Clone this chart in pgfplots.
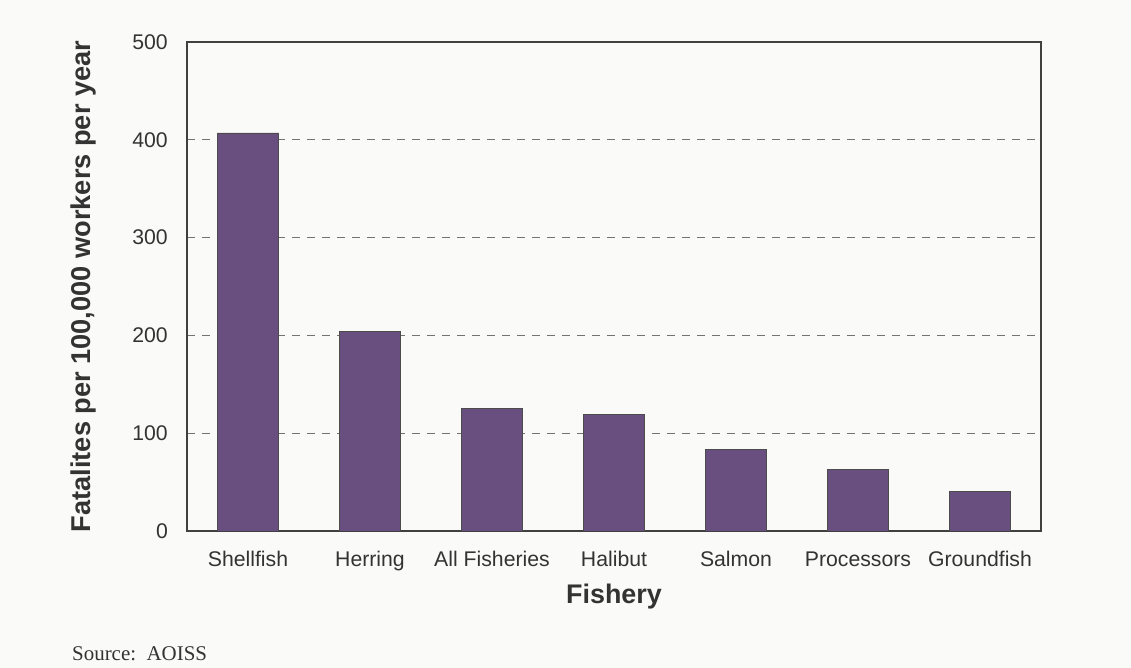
\documentclass[border=0pt]{standalone}
\usepackage{pgfplots}
\pgfplotsset{compat=1.18}
\usepackage{fontspec}
\setmainfont{Liberation Sans}
\newfontfamily\timesfont{Liberation Serif}
\definecolor{bg}{HTML}{FAFAF8}
\definecolor{barc}{HTML}{684F80}
\definecolor{txt}{HTML}{333333}
\begin{document}
\begin{tikzpicture}[x=1bp,y=1bp]
\fill[bg] (0,0) rectangle (1131,668);
\useasboundingbox (0,0) rectangle (1131,668);
\begin{axis}[
  at={(187bp,137bp)}, anchor=south west,
  scale only axis, width=854bp, height=489bp,
  xmin=-0.5, xmax=6.5, ymin=0, ymax=500,
  xtick={0,...,6},
  xticklabels={Shellfish,Herring,All Fisheries,Halibut,Salmon,Processors,Groundfish},
  ytick={0,100,...,500},
  major tick length=0pt,
  axis line style={draw=black!75, line width=1.2bp},
  ymajorgrids,
  grid style={dash pattern=on 8bp off 7bp, draw=black!55, line width=1bp},
  /pgf/number format/assume math mode=true,
  ticklabel style={font=\fontsize{21.3}{25}\selectfont, text=txt, inner sep=0pt},
  yticklabel style={anchor=east, xshift=-19bp},
  xticklabel style={anchor=base, yshift=-36bp},
  ylabel={Fatalites per 100,000 workers per year},
  xlabel={Fishery},
  label style={text=txt},
  ylabel style={font=\bfseries\fontsize{27.3}{31}\selectfont, at={(axis description cs:0,0.5)}, anchor=center, yshift=104bp},
  xlabel style={font=\bfseries\fontsize{27}{31}\selectfont, at={(axis description cs:0.5,0)}, anchor=base, yshift=-73bp},
]
\addplot[ybar, bar width=61bp, fill=barc, draw=black!70, line width=0.8bp]
  coordinates {(0,407) (1,204) (2,125) (3,119) (4,83) (5,63) (6,40)};
\end{axis}
\node[anchor=base west, text=txt, font=\timesfont\fontsize{21}{25}\selectfont, inner sep=0pt] at (72,7) {Source:\ \ AOISS};
\end{tikzpicture}
\end{document}
